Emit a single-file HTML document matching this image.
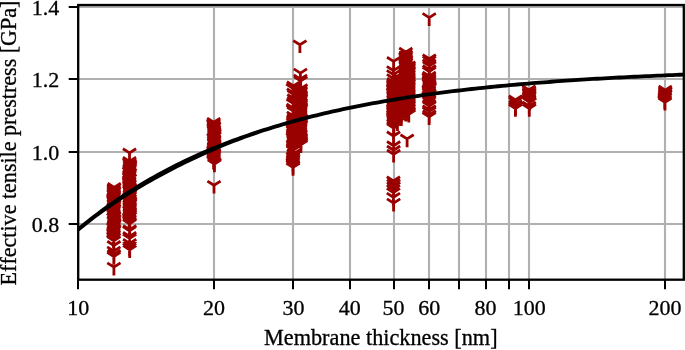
<!DOCTYPE html><html><head><meta charset="utf-8"><title>Effective tensile prestress vs membrane thickness</title><style>html,body{margin:0;padding:0;background:#fff}svg{display:block;will-change:transform}text{font-variant-ligatures:none;font-kerning:none}</style></head><body><svg width="685" height="350" viewBox="0 0 685 350"><rect width="685" height="350" fill="#fff"/><defs><clipPath id="c"><rect x="78.2" y="5.0" width="605.6" height="274.7"/></clipPath></defs><path d="M78 5.0V279.7M214 5.0V279.7M293 5.0V279.7M350 5.0V279.7M394 5.0V279.7M429 5.0V279.7M459 5.0V279.7M486 5.0V279.7M509 5.0V279.7M529 5.0V279.7M665 5.0V279.7M78.2 224.0H683.8M78.2 152.0H683.8M78.2 79.0H683.8M78.2 7.0H683.8" stroke="#b0b0b0" stroke-width="2.1" fill="none"/><path d="M113.9 267.1v8.3M113.9 267.1l6.6 -4.2M113.9 267.1l-6.6 -4.2M113.8 256.5v8.3M113.8 256.5l6.6 -4.2M113.8 256.5l-6.6 -4.2M114.0 254.5v8.3M114.0 254.5l6.6 -4.2M114.0 254.5l-6.6 -4.2M113.8 251.1v8.3M113.8 251.1l6.6 -4.2M113.8 251.1l-6.6 -4.2M113.9 245.5v8.3M113.9 245.5l6.6 -4.2M113.9 245.5l-6.6 -4.2M113.8 240.8v8.3M113.8 240.8l6.6 -4.2M113.8 240.8l-6.6 -4.2M113.4 239.4v8.3M113.4 239.4l6.6 -4.2M113.4 239.4l-6.6 -4.2M113.9 237.9v8.3M113.9 237.9l6.6 -4.2M113.9 237.9l-6.6 -4.2M113.4 236.5v8.3M113.4 236.5l6.6 -4.2M113.4 236.5l-6.6 -4.2M113.8 235.1v8.3M113.8 235.1l6.6 -4.2M113.8 235.1l-6.6 -4.2M113.4 233.6v8.3M113.4 233.6l6.6 -4.2M113.4 233.6l-6.6 -4.2M113.5 232.2v8.3M113.5 232.2l6.6 -4.2M113.5 232.2l-6.6 -4.2M113.8 230.7v8.3M113.8 230.7l6.6 -4.2M113.8 230.7l-6.6 -4.2M114.3 229.3v8.3M114.3 229.3l6.6 -4.2M114.3 229.3l-6.6 -4.2M113.5 227.9v8.3M113.5 227.9l6.6 -4.2M113.5 227.9l-6.6 -4.2M113.6 226.4v8.3M113.6 226.4l6.6 -4.2M113.6 226.4l-6.6 -4.2M114.1 225.0v8.3M114.1 225.0l6.6 -4.2M114.1 225.0l-6.6 -4.2M114.4 223.5v8.3M114.4 223.5l6.6 -4.2M114.4 223.5l-6.6 -4.2M114.0 222.1v8.3M114.0 222.1l6.6 -4.2M114.0 222.1l-6.6 -4.2M113.8 220.6v8.3M113.8 220.6l6.6 -4.2M113.8 220.6l-6.6 -4.2M114.4 219.2v8.3M114.4 219.2l6.6 -4.2M114.4 219.2l-6.6 -4.2M113.4 217.8v8.3M113.4 217.8l6.6 -4.2M113.4 217.8l-6.6 -4.2M114.3 216.3v8.3M114.3 216.3l6.6 -4.2M114.3 216.3l-6.6 -4.2M113.7 214.9v8.3M113.7 214.9l6.6 -4.2M113.7 214.9l-6.6 -4.2M113.5 213.4v8.3M113.5 213.4l6.6 -4.2M113.5 213.4l-6.6 -4.2M113.5 212.0v8.3M113.5 212.0l6.6 -4.2M113.5 212.0l-6.6 -4.2M113.7 210.6v8.3M113.7 210.6l6.6 -4.2M113.7 210.6l-6.6 -4.2M114.3 209.1v8.3M114.3 209.1l6.6 -4.2M114.3 209.1l-6.6 -4.2M113.6 207.7v8.3M113.6 207.7l6.6 -4.2M113.6 207.7l-6.6 -4.2M114.0 206.2v8.3M114.0 206.2l6.6 -4.2M114.0 206.2l-6.6 -4.2M114.1 204.8v8.3M114.1 204.8l6.6 -4.2M114.1 204.8l-6.6 -4.2M113.8 203.4v8.3M113.8 203.4l6.6 -4.2M113.8 203.4l-6.6 -4.2M114.0 201.9v8.3M114.0 201.9l6.6 -4.2M114.0 201.9l-6.6 -4.2M113.4 200.5v8.3M113.4 200.5l6.6 -4.2M113.4 200.5l-6.6 -4.2M113.4 199.0v8.3M113.4 199.0l6.6 -4.2M113.4 199.0l-6.6 -4.2M113.6 197.6v8.3M113.6 197.6l6.6 -4.2M113.6 197.6l-6.6 -4.2M114.1 196.2v8.3M114.1 196.2l6.6 -4.2M114.1 196.2l-6.6 -4.2M113.8 194.7v8.3M113.8 194.7l6.6 -4.2M113.8 194.7l-6.6 -4.2M113.7 193.3v8.3M113.7 193.3l6.6 -4.2M113.7 193.3l-6.6 -4.2M114.0 191.8v8.3M114.0 191.8l6.6 -4.2M114.0 191.8l-6.6 -4.2M113.9 190.4v8.3M113.9 190.4l6.6 -4.2M113.9 190.4l-6.6 -4.2M113.7 189.0v8.3M113.7 189.0l6.6 -4.2M113.7 189.0l-6.6 -4.2M114.2 187.5v8.3M114.2 187.5l6.6 -4.2M114.2 187.5l-6.6 -4.2M129.7 229.7v8.3M129.7 229.7l6.6 -4.2M129.7 229.7l-6.6 -4.2M129.5 230.7v8.3M129.5 230.7l6.6 -4.2M129.5 230.7l-6.6 -4.2M129.6 236.5v8.3M129.6 236.5l6.6 -4.2M129.6 236.5l-6.6 -4.2M129.6 238.4v8.3M129.6 238.4l6.6 -4.2M129.6 238.4l-6.6 -4.2M129.7 243.4v8.3M129.7 243.4l6.6 -4.2M129.7 243.4l-6.6 -4.2M129.7 245.5v8.3M129.7 245.5l6.6 -4.2M129.7 245.5l-6.6 -4.2M129.5 247.6v8.3M129.5 247.6l6.6 -4.2M129.5 247.6l-6.6 -4.2M129.7 249.7v8.3M129.7 249.7l6.6 -4.2M129.7 249.7l-6.6 -4.2M129.5 152.9v8.3M129.5 152.9l6.6 -4.2M129.5 152.9l-6.6 -4.2M129.5 223.8v8.3M129.5 223.8l6.6 -4.2M129.5 223.8l-6.6 -4.2M129.9 222.3v8.3M129.9 222.3l6.6 -4.2M129.9 222.3l-6.6 -4.2M129.2 220.9v8.3M129.2 220.9l6.6 -4.2M129.2 220.9l-6.6 -4.2M129.6 219.4v8.3M129.6 219.4l6.6 -4.2M129.6 219.4l-6.6 -4.2M129.1 218.0v8.3M129.1 218.0l6.6 -4.2M129.1 218.0l-6.6 -4.2M129.8 216.5v8.3M129.8 216.5l6.6 -4.2M129.8 216.5l-6.6 -4.2M129.9 215.1v8.3M129.9 215.1l6.6 -4.2M129.9 215.1l-6.6 -4.2M129.7 213.6v8.3M129.7 213.6l6.6 -4.2M129.7 213.6l-6.6 -4.2M130.0 212.2v8.3M130.0 212.2l6.6 -4.2M130.0 212.2l-6.6 -4.2M129.4 210.7v8.3M129.4 210.7l6.6 -4.2M129.4 210.7l-6.6 -4.2M129.8 209.3v8.3M129.8 209.3l6.6 -4.2M129.8 209.3l-6.6 -4.2M129.7 207.8v8.3M129.7 207.8l6.6 -4.2M129.7 207.8l-6.6 -4.2M129.7 206.4v8.3M129.7 206.4l6.6 -4.2M129.7 206.4l-6.6 -4.2M129.6 204.9v8.3M129.6 204.9l6.6 -4.2M129.6 204.9l-6.6 -4.2M130.0 203.5v8.3M130.0 203.5l6.6 -4.2M130.0 203.5l-6.6 -4.2M130.1 202.0v8.3M130.1 202.0l6.6 -4.2M130.1 202.0l-6.6 -4.2M129.6 200.6v8.3M129.6 200.6l6.6 -4.2M129.6 200.6l-6.6 -4.2M129.8 199.1v8.3M129.8 199.1l6.6 -4.2M129.8 199.1l-6.6 -4.2M129.1 197.7v8.3M129.1 197.7l6.6 -4.2M129.1 197.7l-6.6 -4.2M129.8 196.2v8.3M129.8 196.2l6.6 -4.2M129.8 196.2l-6.6 -4.2M129.8 194.8v8.3M129.8 194.8l6.6 -4.2M129.8 194.8l-6.6 -4.2M130.1 193.3v8.3M130.1 193.3l6.6 -4.2M130.1 193.3l-6.6 -4.2M130.0 191.9v8.3M130.0 191.9l6.6 -4.2M130.0 191.9l-6.6 -4.2M129.4 190.4v8.3M129.4 190.4l6.6 -4.2M129.4 190.4l-6.6 -4.2M129.5 189.0v8.3M129.5 189.0l6.6 -4.2M129.5 189.0l-6.6 -4.2M129.8 187.5v8.3M129.8 187.5l6.6 -4.2M129.8 187.5l-6.6 -4.2M129.1 186.1v8.3M129.1 186.1l6.6 -4.2M129.1 186.1l-6.6 -4.2M129.6 184.6v8.3M129.6 184.6l6.6 -4.2M129.6 184.6l-6.6 -4.2M129.2 183.2v8.3M129.2 183.2l6.6 -4.2M129.2 183.2l-6.6 -4.2M129.2 181.7v8.3M129.2 181.7l6.6 -4.2M129.2 181.7l-6.6 -4.2M129.1 180.3v8.3M129.1 180.3l6.6 -4.2M129.1 180.3l-6.6 -4.2M129.9 178.8v8.3M129.9 178.8l6.6 -4.2M129.9 178.8l-6.6 -4.2M129.2 177.4v8.3M129.2 177.4l6.6 -4.2M129.2 177.4l-6.6 -4.2M129.3 175.9v8.3M129.3 175.9l6.6 -4.2M129.3 175.9l-6.6 -4.2M129.5 174.5v8.3M129.5 174.5l6.6 -4.2M129.5 174.5l-6.6 -4.2M130.0 173.0v8.3M130.0 173.0l6.6 -4.2M130.0 173.0l-6.6 -4.2M129.1 171.6v8.3M129.1 171.6l6.6 -4.2M129.1 171.6l-6.6 -4.2M129.5 170.1v8.3M129.5 170.1l6.6 -4.2M129.5 170.1l-6.6 -4.2M129.7 168.7v8.3M129.7 168.7l6.6 -4.2M129.7 168.7l-6.6 -4.2M130.0 167.2v8.3M130.0 167.2l6.6 -4.2M130.0 167.2l-6.6 -4.2M130.0 165.8v8.3M130.0 165.8l6.6 -4.2M130.0 165.8l-6.6 -4.2M130.0 164.3v8.3M130.0 164.3l6.6 -4.2M130.0 164.3l-6.6 -4.2M129.4 162.9v8.3M129.4 162.9l6.6 -4.2M129.4 162.9l-6.6 -4.2M129.5 161.4v8.3M129.5 161.4l6.6 -4.2M129.5 161.4l-6.6 -4.2M214.0 185.3v8.3M214.0 185.3l6.6 -4.2M214.0 185.3l-6.6 -4.2M214.4 164.0v8.3M214.4 164.0l6.6 -4.2M214.4 164.0l-6.6 -4.2M214.5 162.5v8.3M214.5 162.5l6.6 -4.2M214.5 162.5l-6.6 -4.2M213.6 161.1v8.3M213.6 161.1l6.6 -4.2M213.6 161.1l-6.6 -4.2M213.6 159.6v8.3M213.6 159.6l6.6 -4.2M213.6 159.6l-6.6 -4.2M213.7 158.2v8.3M213.7 158.2l6.6 -4.2M213.7 158.2l-6.6 -4.2M213.7 156.8v8.3M213.7 156.8l6.6 -4.2M213.7 156.8l-6.6 -4.2M214.0 155.3v8.3M214.0 155.3l6.6 -4.2M214.0 155.3l-6.6 -4.2M214.1 153.9v8.3M214.1 153.9l6.6 -4.2M214.1 153.9l-6.6 -4.2M213.7 152.5v8.3M213.7 152.5l6.6 -4.2M213.7 152.5l-6.6 -4.2M213.4 151.0v8.3M213.4 151.0l6.6 -4.2M213.4 151.0l-6.6 -4.2M213.9 149.6v8.3M213.9 149.6l6.6 -4.2M213.9 149.6l-6.6 -4.2M213.9 148.1v8.3M213.9 148.1l6.6 -4.2M213.9 148.1l-6.6 -4.2M214.1 146.7v8.3M214.1 146.7l6.6 -4.2M214.1 146.7l-6.6 -4.2M214.5 145.3v8.3M214.5 145.3l6.6 -4.2M214.5 145.3l-6.6 -4.2M214.2 143.8v8.3M214.2 143.8l6.6 -4.2M214.2 143.8l-6.6 -4.2M214.0 142.4v8.3M214.0 142.4l6.6 -4.2M214.0 142.4l-6.6 -4.2M214.1 141.0v8.3M214.1 141.0l6.6 -4.2M214.1 141.0l-6.6 -4.2M214.2 139.5v8.3M214.2 139.5l6.6 -4.2M214.2 139.5l-6.6 -4.2M213.5 138.1v8.3M213.5 138.1l6.6 -4.2M213.5 138.1l-6.6 -4.2M214.4 136.6v8.3M214.4 136.6l6.6 -4.2M214.4 136.6l-6.6 -4.2M214.3 135.2v8.3M214.3 135.2l6.6 -4.2M214.3 135.2l-6.6 -4.2M214.4 133.8v8.3M214.4 133.8l6.6 -4.2M214.4 133.8l-6.6 -4.2M214.3 132.3v8.3M214.3 132.3l6.6 -4.2M214.3 132.3l-6.6 -4.2M213.9 130.9v8.3M213.9 130.9l6.6 -4.2M213.9 130.9l-6.6 -4.2M213.9 129.5v8.3M213.9 129.5l6.6 -4.2M213.9 129.5l-6.6 -4.2M213.6 128.0v8.3M213.6 128.0l6.6 -4.2M213.6 128.0l-6.6 -4.2M214.1 126.6v8.3M214.1 126.6l6.6 -4.2M214.1 126.6l-6.6 -4.2M213.5 125.1v8.3M213.5 125.1l6.6 -4.2M213.5 125.1l-6.6 -4.2M213.5 123.7v8.3M213.5 123.7l6.6 -4.2M213.5 123.7l-6.6 -4.2M213.7 122.3v8.3M213.7 122.3l6.6 -4.2M213.7 122.3l-6.6 -4.2M293.0 167.4v8.3M293.0 167.4l6.6 -4.2M293.0 167.4l-6.6 -4.2M293.2 165.9v8.3M293.2 165.9l6.6 -4.2M293.2 165.9l-6.6 -4.2M292.9 164.4v8.3M292.9 164.4l6.6 -4.2M292.9 164.4l-6.6 -4.2M292.8 162.9v8.3M292.8 162.9l6.6 -4.2M292.8 162.9l-6.6 -4.2M293.0 161.4v8.3M293.0 161.4l6.6 -4.2M293.0 161.4l-6.6 -4.2M293.0 159.9v8.3M293.0 159.9l6.6 -4.2M293.0 159.9l-6.6 -4.2M293.3 158.3v8.3M293.3 158.3l6.6 -4.2M293.3 158.3l-6.6 -4.2M292.9 156.8v8.3M292.9 156.8l6.6 -4.2M292.9 156.8l-6.6 -4.2M293.9 155.3v8.3M293.9 155.3l6.6 -4.2M293.9 155.3l-6.6 -4.2M293.6 153.8v8.3M293.6 153.8l6.6 -4.2M293.6 153.8l-6.6 -4.2M293.0 150.2v8.3M293.0 150.2l6.6 -4.2M293.0 150.2l-6.6 -4.2M293.1 148.8v8.3M293.1 148.8l6.6 -4.2M293.1 148.8l-6.6 -4.2M293.2 147.4v8.3M293.2 147.4l6.6 -4.2M293.2 147.4l-6.6 -4.2M293.3 146.0v8.3M293.3 146.0l6.6 -4.2M293.3 146.0l-6.6 -4.2M293.0 144.5v8.3M293.0 144.5l6.6 -4.2M293.0 144.5l-6.6 -4.2M293.8 143.1v8.3M293.8 143.1l6.6 -4.2M293.8 143.1l-6.6 -4.2M294.0 141.7v8.3M294.0 141.7l6.6 -4.2M294.0 141.7l-6.6 -4.2M293.4 140.3v8.3M293.4 140.3l6.6 -4.2M293.4 140.3l-6.6 -4.2M293.4 138.9v8.3M293.4 138.9l6.6 -4.2M293.4 138.9l-6.6 -4.2M292.9 137.5v8.3M292.9 137.5l6.6 -4.2M292.9 137.5l-6.6 -4.2M293.0 136.1v8.3M293.0 136.1l6.6 -4.2M293.0 136.1l-6.6 -4.2M293.2 134.7v8.3M293.2 134.7l6.6 -4.2M293.2 134.7l-6.6 -4.2M293.1 133.3v8.3M293.1 133.3l6.6 -4.2M293.1 133.3l-6.6 -4.2M293.8 131.9v8.3M293.8 131.9l6.6 -4.2M293.8 131.9l-6.6 -4.2M293.0 130.5v8.3M293.0 130.5l6.6 -4.2M293.0 130.5l-6.6 -4.2M292.9 129.0v8.3M292.9 129.0l6.6 -4.2M292.9 129.0l-6.6 -4.2M294.0 127.6v8.3M294.0 127.6l6.6 -4.2M294.0 127.6l-6.6 -4.2M293.5 126.2v8.3M293.5 126.2l6.6 -4.2M293.5 126.2l-6.6 -4.2M293.0 124.8v8.3M293.0 124.8l6.6 -4.2M293.0 124.8l-6.6 -4.2M293.5 86.0v8.3M293.5 86.0l6.6 -4.2M293.5 86.0l-6.6 -4.2M292.8 88.2v8.3M292.8 88.2l6.6 -4.2M292.8 88.2l-6.6 -4.2M293.5 92.9v8.3M293.5 92.9l6.6 -4.2M293.5 92.9l-6.6 -4.2M294.1 94.7v8.3M294.1 94.7l6.6 -4.2M294.1 94.7l-6.6 -4.2M293.9 98.7v8.3M293.9 98.7l6.6 -4.2M293.9 98.7l-6.6 -4.2M293.7 101.6v8.3M293.7 101.6l6.6 -4.2M293.7 101.6l-6.6 -4.2M293.1 103.4v8.3M293.1 103.4l6.6 -4.2M293.1 103.4l-6.6 -4.2M293.2 108.1v8.3M293.2 108.1l6.6 -4.2M293.2 108.1l-6.6 -4.2M293.0 109.6v8.3M293.0 109.6l6.6 -4.2M293.0 109.6l-6.6 -4.2M293.8 111.4v8.3M293.8 111.4l6.6 -4.2M293.8 111.4l-6.6 -4.2M293.5 116.1v8.3M293.5 116.1l6.6 -4.2M293.5 116.1l-6.6 -4.2M293.8 118.3v8.3M293.8 118.3l6.6 -4.2M293.8 118.3l-6.6 -4.2M293.2 120.1v8.3M293.2 120.1l6.6 -4.2M293.2 120.1l-6.6 -4.2M293.0 122.3v8.3M293.0 122.3l6.6 -4.2M293.0 122.3l-6.6 -4.2M300.8 144.7v8.3M300.8 144.7l6.6 -4.2M300.8 144.7l-6.6 -4.2M301.0 143.3v8.3M301.0 143.3l6.6 -4.2M301.0 143.3l-6.6 -4.2M300.9 141.9v8.3M300.9 141.9l6.6 -4.2M300.9 141.9l-6.6 -4.2M300.8 140.4v8.3M300.8 140.4l6.6 -4.2M300.8 140.4l-6.6 -4.2M300.8 139.0v8.3M300.8 139.0l6.6 -4.2M300.8 139.0l-6.6 -4.2M300.7 137.5v8.3M300.7 137.5l6.6 -4.2M300.7 137.5l-6.6 -4.2M300.2 136.1v8.3M300.2 136.1l6.6 -4.2M300.2 136.1l-6.6 -4.2M300.5 134.7v8.3M300.5 134.7l6.6 -4.2M300.5 134.7l-6.6 -4.2M300.3 133.2v8.3M300.3 133.2l6.6 -4.2M300.3 133.2l-6.6 -4.2M300.0 131.8v8.3M300.0 131.8l6.6 -4.2M300.0 131.8l-6.6 -4.2M300.0 130.3v8.3M300.0 130.3l6.6 -4.2M300.0 130.3l-6.6 -4.2M300.2 128.9v8.3M300.2 128.9l6.6 -4.2M300.2 128.9l-6.6 -4.2M300.2 127.5v8.3M300.2 127.5l6.6 -4.2M300.2 127.5l-6.6 -4.2M300.7 126.0v8.3M300.7 126.0l6.6 -4.2M300.7 126.0l-6.6 -4.2M301.0 124.6v8.3M301.0 124.6l6.6 -4.2M301.0 124.6l-6.6 -4.2M300.4 123.1v8.3M300.4 123.1l6.6 -4.2M300.4 123.1l-6.6 -4.2M301.0 121.7v8.3M301.0 121.7l6.6 -4.2M301.0 121.7l-6.6 -4.2M301.0 120.3v8.3M301.0 120.3l6.6 -4.2M301.0 120.3l-6.6 -4.2M301.0 118.8v8.3M301.0 118.8l6.6 -4.2M301.0 118.8l-6.6 -4.2M300.3 117.4v8.3M300.3 117.4l6.6 -4.2M300.3 117.4l-6.6 -4.2M300.2 115.9v8.3M300.2 115.9l6.6 -4.2M300.2 115.9l-6.6 -4.2M300.2 114.5v8.3M300.2 114.5l6.6 -4.2M300.2 114.5l-6.6 -4.2M300.2 113.1v8.3M300.2 113.1l6.6 -4.2M300.2 113.1l-6.6 -4.2M300.2 111.6v8.3M300.2 111.6l6.6 -4.2M300.2 111.6l-6.6 -4.2M300.6 110.2v8.3M300.6 110.2l6.6 -4.2M300.6 110.2l-6.6 -4.2M300.9 108.7v8.3M300.9 108.7l6.6 -4.2M300.9 108.7l-6.6 -4.2M300.9 107.3v8.3M300.9 107.3l6.6 -4.2M300.9 107.3l-6.6 -4.2M300.5 105.9v8.3M300.5 105.9l6.6 -4.2M300.5 105.9l-6.6 -4.2M300.7 104.4v8.3M300.7 104.4l6.6 -4.2M300.7 104.4l-6.6 -4.2M300.8 103.0v8.3M300.8 103.0l6.6 -4.2M300.8 103.0l-6.6 -4.2M300.0 101.5v8.3M300.0 101.5l6.6 -4.2M300.0 101.5l-6.6 -4.2M300.7 100.1v8.3M300.7 100.1l6.6 -4.2M300.7 100.1l-6.6 -4.2M300.9 98.6v8.3M300.9 98.6l6.6 -4.2M300.9 98.6l-6.6 -4.2M300.8 97.2v8.3M300.8 97.2l6.6 -4.2M300.8 97.2l-6.6 -4.2M300.8 95.8v8.3M300.8 95.8l6.6 -4.2M300.8 95.8l-6.6 -4.2M300.5 94.3v8.3M300.5 94.3l6.6 -4.2M300.5 94.3l-6.6 -4.2M300.1 92.9v8.3M300.1 92.9l6.6 -4.2M300.1 92.9l-6.6 -4.2M300.8 91.4v8.3M300.8 91.4l6.6 -4.2M300.8 91.4l-6.6 -4.2M300.3 90.0v8.3M300.3 90.0l6.6 -4.2M300.3 90.0l-6.6 -4.2M300.8 88.6v8.3M300.8 88.6l6.6 -4.2M300.8 88.6l-6.6 -4.2M300.7 80.9v8.3M300.7 80.9l6.6 -4.2M300.7 80.9l-6.6 -4.2M300.4 79.1v8.3M300.4 79.1l6.6 -4.2M300.4 79.1l-6.6 -4.2M300.4 73.1v8.3M300.4 73.1l6.6 -4.2M300.4 73.1l-6.6 -4.2M299.9 44.8v8.3M299.9 44.8l6.6 -4.2M299.9 44.8l-6.6 -4.2M393.6 203.1v8.3M393.6 203.1l6.6 -4.2M393.6 203.1l-6.6 -4.2M393.4 197.3v8.3M393.4 197.3l6.6 -4.2M393.4 197.3l-6.6 -4.2M393.4 192.6v8.3M393.4 192.6l6.6 -4.2M393.4 192.6l-6.6 -4.2M393.4 189.3v8.3M393.4 189.3l6.6 -4.2M393.4 189.3l-6.6 -4.2M393.6 186.4v8.3M393.6 186.4l6.6 -4.2M393.6 186.4l-6.6 -4.2M393.6 183.9v8.3M393.6 183.9l6.6 -4.2M393.6 183.9l-6.6 -4.2M393.4 181.0v8.3M393.4 181.0l6.6 -4.2M393.4 181.0l-6.6 -4.2M393.6 154.2v8.3M393.6 154.2l6.6 -4.2M393.6 154.2l-6.6 -4.2M393.6 150.2v8.3M393.6 150.2l6.6 -4.2M393.6 150.2l-6.6 -4.2M393.6 145.7v8.3M393.6 145.7l6.6 -4.2M393.6 145.7l-6.6 -4.2M393.5 136.0v8.3M393.5 136.0l6.6 -4.2M393.5 136.0l-6.6 -4.2M393.5 78.6v8.3M393.5 78.6l6.6 -4.2M393.5 78.6l-6.6 -4.2M393.4 74.6v8.3M393.4 74.6l6.6 -4.2M393.4 74.6l-6.6 -4.2M393.4 70.6v8.3M393.4 70.6l6.6 -4.2M393.4 70.6l-6.6 -4.2M393.6 61.4v8.3M393.6 61.4l6.6 -4.2M393.6 61.4l-6.6 -4.2M393.6 128.1v8.3M393.6 128.1l6.6 -4.2M393.6 128.1l-6.6 -4.2M393.5 126.6v8.3M393.5 126.6l6.6 -4.2M393.5 126.6l-6.6 -4.2M393.9 125.1v8.3M393.9 125.1l6.6 -4.2M393.9 125.1l-6.6 -4.2M393.5 123.7v8.3M393.5 123.7l6.6 -4.2M393.5 123.7l-6.6 -4.2M393.8 122.2v8.3M393.8 122.2l6.6 -4.2M393.8 122.2l-6.6 -4.2M393.8 120.7v8.3M393.8 120.7l6.6 -4.2M393.8 120.7l-6.6 -4.2M393.3 119.2v8.3M393.3 119.2l6.6 -4.2M393.3 119.2l-6.6 -4.2M393.3 117.8v8.3M393.3 117.8l6.6 -4.2M393.3 117.8l-6.6 -4.2M393.3 116.3v8.3M393.3 116.3l6.6 -4.2M393.3 116.3l-6.6 -4.2M393.3 114.8v8.3M393.3 114.8l6.6 -4.2M393.3 114.8l-6.6 -4.2M393.6 113.3v8.3M393.6 113.3l6.6 -4.2M393.6 113.3l-6.6 -4.2M393.3 111.9v8.3M393.3 111.9l6.6 -4.2M393.3 111.9l-6.6 -4.2M393.4 110.4v8.3M393.4 110.4l6.6 -4.2M393.4 110.4l-6.6 -4.2M393.2 108.9v8.3M393.2 108.9l6.6 -4.2M393.2 108.9l-6.6 -4.2M393.8 107.4v8.3M393.8 107.4l6.6 -4.2M393.8 107.4l-6.6 -4.2M393.4 106.0v8.3M393.4 106.0l6.6 -4.2M393.4 106.0l-6.6 -4.2M393.5 104.5v8.3M393.5 104.5l6.6 -4.2M393.5 104.5l-6.6 -4.2M393.6 103.0v8.3M393.6 103.0l6.6 -4.2M393.6 103.0l-6.6 -4.2M393.8 101.6v8.3M393.8 101.6l6.6 -4.2M393.8 101.6l-6.6 -4.2M393.4 100.1v8.3M393.4 100.1l6.6 -4.2M393.4 100.1l-6.6 -4.2M393.8 98.6v8.3M393.8 98.6l6.6 -4.2M393.8 98.6l-6.6 -4.2M393.5 97.1v8.3M393.5 97.1l6.6 -4.2M393.5 97.1l-6.6 -4.2M393.5 95.7v8.3M393.5 95.7l6.6 -4.2M393.5 95.7l-6.6 -4.2M393.5 94.2v8.3M393.5 94.2l6.6 -4.2M393.5 94.2l-6.6 -4.2M393.1 92.7v8.3M393.1 92.7l6.6 -4.2M393.1 92.7l-6.6 -4.2M393.5 91.2v8.3M393.5 91.2l6.6 -4.2M393.5 91.2l-6.6 -4.2M393.3 89.8v8.3M393.3 89.8l6.6 -4.2M393.3 89.8l-6.6 -4.2M393.1 88.3v8.3M393.1 88.3l6.6 -4.2M393.1 88.3l-6.6 -4.2M393.7 86.8v8.3M393.7 86.8l6.6 -4.2M393.7 86.8l-6.6 -4.2M393.2 85.3v8.3M393.2 85.3l6.6 -4.2M393.2 85.3l-6.6 -4.2M393.5 83.9v8.3M393.5 83.9l6.6 -4.2M393.5 83.9l-6.6 -4.2M393.7 82.4v8.3M393.7 82.4l6.6 -4.2M393.7 82.4l-6.6 -4.2M397.4 122.6v8.3M397.4 122.6l6.6 -4.2M397.4 122.6l-6.6 -4.2M397.3 120.8v8.3M397.3 120.8l6.6 -4.2M397.3 120.8l-6.6 -4.2M397.4 119.0v8.3M397.4 119.0l6.6 -4.2M397.4 119.0l-6.6 -4.2M397.4 117.2v8.3M397.4 117.2l6.6 -4.2M397.4 117.2l-6.6 -4.2M397.6 115.4v8.3M397.6 115.4l6.6 -4.2M397.6 115.4l-6.6 -4.2M397.1 113.6v8.3M397.1 113.6l6.6 -4.2M397.1 113.6l-6.6 -4.2M397.4 111.8v8.3M397.4 111.8l6.6 -4.2M397.4 111.8l-6.6 -4.2M397.2 110.0v8.3M397.2 110.0l6.6 -4.2M397.2 110.0l-6.6 -4.2M397.3 108.2v8.3M397.3 108.2l6.6 -4.2M397.3 108.2l-6.6 -4.2M397.5 106.5v8.3M397.5 106.5l6.6 -4.2M397.5 106.5l-6.6 -4.2M397.4 104.7v8.3M397.4 104.7l6.6 -4.2M397.4 104.7l-6.6 -4.2M397.4 102.9v8.3M397.4 102.9l6.6 -4.2M397.4 102.9l-6.6 -4.2M397.5 101.1v8.3M397.5 101.1l6.6 -4.2M397.5 101.1l-6.6 -4.2M397.6 99.3v8.3M397.6 99.3l6.6 -4.2M397.6 99.3l-6.6 -4.2M397.4 97.5v8.3M397.4 97.5l6.6 -4.2M397.4 97.5l-6.6 -4.2M397.5 95.7v8.3M397.5 95.7l6.6 -4.2M397.5 95.7l-6.6 -4.2M397.4 93.9v8.3M397.4 93.9l6.6 -4.2M397.4 93.9l-6.6 -4.2M397.4 92.1v8.3M397.4 92.1l6.6 -4.2M397.4 92.1l-6.6 -4.2M397.5 90.3v8.3M397.5 90.3l6.6 -4.2M397.5 90.3l-6.6 -4.2M397.4 88.5v8.3M397.4 88.5l6.6 -4.2M397.4 88.5l-6.6 -4.2M397.4 86.7v8.3M397.4 86.7l6.6 -4.2M397.4 86.7l-6.6 -4.2M397.4 84.9v8.3M397.4 84.9l6.6 -4.2M397.4 84.9l-6.6 -4.2M397.6 83.1v8.3M397.6 83.1l6.6 -4.2M397.6 83.1l-6.6 -4.2M401.3 117.6v8.3M401.3 117.6l6.6 -4.2M401.3 117.6l-6.6 -4.2M401.4 115.8v8.3M401.4 115.8l6.6 -4.2M401.4 115.8l-6.6 -4.2M401.5 113.9v8.3M401.5 113.9l6.6 -4.2M401.5 113.9l-6.6 -4.2M401.0 112.1v8.3M401.0 112.1l6.6 -4.2M401.0 112.1l-6.6 -4.2M401.2 110.3v8.3M401.2 110.3l6.6 -4.2M401.2 110.3l-6.6 -4.2M401.5 108.5v8.3M401.5 108.5l6.6 -4.2M401.5 108.5l-6.6 -4.2M401.4 106.7v8.3M401.4 106.7l6.6 -4.2M401.4 106.7l-6.6 -4.2M401.0 104.9v8.3M401.0 104.9l6.6 -4.2M401.0 104.9l-6.6 -4.2M401.0 103.1v8.3M401.0 103.1l6.6 -4.2M401.0 103.1l-6.6 -4.2M401.2 101.2v8.3M401.2 101.2l6.6 -4.2M401.2 101.2l-6.6 -4.2M400.9 99.4v8.3M400.9 99.4l6.6 -4.2M400.9 99.4l-6.6 -4.2M401.0 97.6v8.3M401.0 97.6l6.6 -4.2M401.0 97.6l-6.6 -4.2M400.9 95.8v8.3M400.9 95.8l6.6 -4.2M400.9 95.8l-6.6 -4.2M401.3 94.0v8.3M401.3 94.0l6.6 -4.2M401.3 94.0l-6.6 -4.2M401.4 92.2v8.3M401.4 92.2l6.6 -4.2M401.4 92.2l-6.6 -4.2M401.4 90.4v8.3M401.4 90.4l6.6 -4.2M401.4 90.4l-6.6 -4.2M401.0 88.6v8.3M401.0 88.6l6.6 -4.2M401.0 88.6l-6.6 -4.2M401.3 86.7v8.3M401.3 86.7l6.6 -4.2M401.3 86.7l-6.6 -4.2M401.3 84.9v8.3M401.3 84.9l6.6 -4.2M401.3 84.9l-6.6 -4.2M401.0 83.1v8.3M401.0 83.1l6.6 -4.2M401.0 83.1l-6.6 -4.2M401.4 81.3v8.3M401.4 81.3l6.6 -4.2M401.4 81.3l-6.6 -4.2M401.5 79.5v8.3M401.5 79.5l6.6 -4.2M401.5 79.5l-6.6 -4.2M405.7 113.3v8.3M405.7 113.3l6.6 -4.2M405.7 113.3l-6.6 -4.2M406.1 111.9v8.3M406.1 111.9l6.6 -4.2M406.1 111.9l-6.6 -4.2M405.8 110.4v8.3M405.8 110.4l6.6 -4.2M405.8 110.4l-6.6 -4.2M405.8 109.0v8.3M405.8 109.0l6.6 -4.2M405.8 109.0l-6.6 -4.2M406.1 107.5v8.3M406.1 107.5l6.6 -4.2M406.1 107.5l-6.6 -4.2M406.0 106.1v8.3M406.0 106.1l6.6 -4.2M406.0 106.1l-6.6 -4.2M405.6 104.6v8.3M405.6 104.6l6.6 -4.2M405.6 104.6l-6.6 -4.2M405.8 103.2v8.3M405.8 103.2l6.6 -4.2M405.8 103.2l-6.6 -4.2M405.9 101.7v8.3M405.9 101.7l6.6 -4.2M405.9 101.7l-6.6 -4.2M405.7 100.2v8.3M405.7 100.2l6.6 -4.2M405.7 100.2l-6.6 -4.2M405.7 98.8v8.3M405.7 98.8l6.6 -4.2M405.7 98.8l-6.6 -4.2M405.7 97.3v8.3M405.7 97.3l6.6 -4.2M405.7 97.3l-6.6 -4.2M406.0 95.9v8.3M406.0 95.9l6.6 -4.2M406.0 95.9l-6.6 -4.2M405.6 94.4v8.3M405.6 94.4l6.6 -4.2M405.6 94.4l-6.6 -4.2M405.9 93.0v8.3M405.9 93.0l6.6 -4.2M405.9 93.0l-6.6 -4.2M405.8 91.5v8.3M405.8 91.5l6.6 -4.2M405.8 91.5l-6.6 -4.2M405.6 90.1v8.3M405.6 90.1l6.6 -4.2M405.6 90.1l-6.6 -4.2M405.7 88.6v8.3M405.7 88.6l6.6 -4.2M405.7 88.6l-6.6 -4.2M405.9 87.2v8.3M405.9 87.2l6.6 -4.2M405.9 87.2l-6.6 -4.2M405.9 85.7v8.3M405.9 85.7l6.6 -4.2M405.9 85.7l-6.6 -4.2M405.6 84.3v8.3M405.6 84.3l6.6 -4.2M405.6 84.3l-6.6 -4.2M406.1 82.8v8.3M406.1 82.8l6.6 -4.2M406.1 82.8l-6.6 -4.2M406.0 81.4v8.3M406.0 81.4l6.6 -4.2M406.0 81.4l-6.6 -4.2M406.1 79.9v8.3M406.1 79.9l6.6 -4.2M406.1 79.9l-6.6 -4.2M405.6 78.5v8.3M405.6 78.5l6.6 -4.2M405.6 78.5l-6.6 -4.2M405.7 77.0v8.3M405.7 77.0l6.6 -4.2M405.7 77.0l-6.6 -4.2M405.6 75.6v8.3M405.6 75.6l6.6 -4.2M405.6 75.6l-6.6 -4.2M406.0 74.1v8.3M406.0 74.1l6.6 -4.2M406.0 74.1l-6.6 -4.2M405.7 72.6v8.3M405.7 72.6l6.6 -4.2M405.7 72.6l-6.6 -4.2M405.6 71.2v8.3M405.6 71.2l6.6 -4.2M405.6 71.2l-6.6 -4.2M405.8 69.7v8.3M405.8 69.7l6.6 -4.2M405.8 69.7l-6.6 -4.2M406.1 68.3v8.3M406.1 68.3l6.6 -4.2M406.1 68.3l-6.6 -4.2M406.0 66.8v8.3M406.0 66.8l6.6 -4.2M406.0 66.8l-6.6 -4.2M405.7 65.4v8.3M405.7 65.4l6.6 -4.2M405.7 65.4l-6.6 -4.2M405.6 63.9v8.3M405.6 63.9l6.6 -4.2M405.6 63.9l-6.6 -4.2M406.1 62.5v8.3M406.1 62.5l6.6 -4.2M406.1 62.5l-6.6 -4.2M405.9 61.0v8.3M405.9 61.0l6.6 -4.2M405.9 61.0l-6.6 -4.2M406.0 59.6v8.3M406.0 59.6l6.6 -4.2M406.0 59.6l-6.6 -4.2M405.6 58.1v8.3M405.6 58.1l6.6 -4.2M405.6 58.1l-6.6 -4.2M405.6 56.7v8.3M405.6 56.7l6.6 -4.2M405.6 56.7l-6.6 -4.2M406.0 55.2v8.3M406.0 55.2l6.6 -4.2M406.0 55.2l-6.6 -4.2M405.8 52.2v8.3M405.8 52.2l6.6 -4.2M405.8 52.2l-6.6 -4.2M407.1 138.9v8.3M407.1 138.9l6.6 -4.2M407.1 138.9l-6.6 -4.2M408.8 114.3v8.3M408.8 114.3l6.6 -4.2M408.8 114.3l-6.6 -4.2M408.6 112.8v8.3M408.6 112.8l6.6 -4.2M408.6 112.8l-6.6 -4.2M408.7 111.4v8.3M408.7 111.4l6.6 -4.2M408.7 111.4l-6.6 -4.2M408.4 109.9v8.3M408.4 109.9l6.6 -4.2M408.4 109.9l-6.6 -4.2M408.7 108.4v8.3M408.7 108.4l6.6 -4.2M408.7 108.4l-6.6 -4.2M408.4 107.0v8.3M408.4 107.0l6.6 -4.2M408.4 107.0l-6.6 -4.2M408.7 105.5v8.3M408.7 105.5l6.6 -4.2M408.7 105.5l-6.6 -4.2M408.6 104.1v8.3M408.6 104.1l6.6 -4.2M408.6 104.1l-6.6 -4.2M408.5 102.6v8.3M408.5 102.6l6.6 -4.2M408.5 102.6l-6.6 -4.2M408.6 101.1v8.3M408.6 101.1l6.6 -4.2M408.6 101.1l-6.6 -4.2M408.8 99.7v8.3M408.8 99.7l6.6 -4.2M408.8 99.7l-6.6 -4.2M408.5 98.2v8.3M408.5 98.2l6.6 -4.2M408.5 98.2l-6.6 -4.2M408.4 96.7v8.3M408.4 96.7l6.6 -4.2M408.4 96.7l-6.6 -4.2M408.6 95.3v8.3M408.6 95.3l6.6 -4.2M408.6 95.3l-6.6 -4.2M408.5 93.8v8.3M408.5 93.8l6.6 -4.2M408.5 93.8l-6.6 -4.2M408.4 92.3v8.3M408.4 92.3l6.6 -4.2M408.4 92.3l-6.6 -4.2M408.4 90.9v8.3M408.4 90.9l6.6 -4.2M408.4 90.9l-6.6 -4.2M408.4 89.4v8.3M408.4 89.4l6.6 -4.2M408.4 89.4l-6.6 -4.2M408.5 87.9v8.3M408.5 87.9l6.6 -4.2M408.5 87.9l-6.6 -4.2M408.5 86.5v8.3M408.5 86.5l6.6 -4.2M408.5 86.5l-6.6 -4.2M408.5 85.0v8.3M408.5 85.0l6.6 -4.2M408.5 85.0l-6.6 -4.2M408.7 83.6v8.3M408.7 83.6l6.6 -4.2M408.7 83.6l-6.6 -4.2M408.5 82.1v8.3M408.5 82.1l6.6 -4.2M408.5 82.1l-6.6 -4.2M408.6 80.6v8.3M408.6 80.6l6.6 -4.2M408.6 80.6l-6.6 -4.2M408.5 79.2v8.3M408.5 79.2l6.6 -4.2M408.5 79.2l-6.6 -4.2M408.5 77.7v8.3M408.5 77.7l6.6 -4.2M408.5 77.7l-6.6 -4.2M408.4 76.2v8.3M408.4 76.2l6.6 -4.2M408.4 76.2l-6.6 -4.2M408.5 74.8v8.3M408.5 74.8l6.6 -4.2M408.5 74.8l-6.6 -4.2M408.4 73.3v8.3M408.4 73.3l6.6 -4.2M408.4 73.3l-6.6 -4.2M408.7 71.8v8.3M408.7 71.8l6.6 -4.2M408.7 71.8l-6.6 -4.2M408.6 70.4v8.3M408.6 70.4l6.6 -4.2M408.6 70.4l-6.6 -4.2M408.5 68.9v8.3M408.5 68.9l6.6 -4.2M408.5 68.9l-6.6 -4.2M408.6 67.4v8.3M408.6 67.4l6.6 -4.2M408.6 67.4l-6.6 -4.2M408.8 66.0v8.3M408.8 66.0l6.6 -4.2M408.8 66.0l-6.6 -4.2M429.1 116.7v8.3M429.1 116.7l6.6 -4.2M429.1 116.7l-6.6 -4.2M429.3 115.0v8.3M429.3 115.0l6.6 -4.2M429.3 115.0l-6.6 -4.2M429.2 111.4v8.3M429.2 111.4l6.6 -4.2M429.2 111.4l-6.6 -4.2M429.2 109.8v8.3M429.2 109.8l6.6 -4.2M429.2 109.8l-6.6 -4.2M429.3 106.1v8.3M429.3 106.1l6.6 -4.2M429.3 106.1l-6.6 -4.2M429.2 104.5v8.3M429.2 104.5l6.6 -4.2M429.2 104.5l-6.6 -4.2M429.2 71.5v8.3M429.2 71.5l6.6 -4.2M429.2 71.5l-6.6 -4.2M429.3 69.7v8.3M429.3 69.7l6.6 -4.2M429.3 69.7l-6.6 -4.2M429.4 65.9v8.3M429.4 65.9l6.6 -4.2M429.4 65.9l-6.6 -4.2M429.2 63.9v8.3M429.2 63.9l6.6 -4.2M429.2 63.9l-6.6 -4.2M429.3 60.6v8.3M429.3 60.6l6.6 -4.2M429.3 60.6l-6.6 -4.2M429.3 58.8v8.3M429.3 58.8l6.6 -4.2M429.3 58.8l-6.6 -4.2M429.2 17.6v8.3M429.2 17.6l6.6 -4.2M429.2 17.6l-6.6 -4.2M429.1 101.2v8.3M429.1 101.2l6.6 -4.2M429.1 101.2l-6.6 -4.2M429.1 99.8v8.3M429.1 99.8l6.6 -4.2M429.1 99.8l-6.6 -4.2M428.7 98.3v8.3M428.7 98.3l6.6 -4.2M428.7 98.3l-6.6 -4.2M428.8 96.8v8.3M428.8 96.8l6.6 -4.2M428.8 96.8l-6.6 -4.2M428.8 95.4v8.3M428.8 95.4l6.6 -4.2M428.8 95.4l-6.6 -4.2M429.5 93.9v8.3M429.5 93.9l6.6 -4.2M429.5 93.9l-6.6 -4.2M429.0 92.4v8.3M429.0 92.4l6.6 -4.2M429.0 92.4l-6.6 -4.2M428.9 91.0v8.3M428.9 91.0l6.6 -4.2M428.9 91.0l-6.6 -4.2M428.8 89.5v8.3M428.8 89.5l6.6 -4.2M428.8 89.5l-6.6 -4.2M429.6 88.0v8.3M429.6 88.0l6.6 -4.2M429.6 88.0l-6.6 -4.2M429.6 86.5v8.3M429.6 86.5l6.6 -4.2M429.6 86.5l-6.6 -4.2M429.4 85.1v8.3M429.4 85.1l6.6 -4.2M429.4 85.1l-6.6 -4.2M429.0 83.6v8.3M429.0 83.6l6.6 -4.2M429.0 83.6l-6.6 -4.2M428.9 82.1v8.3M428.9 82.1l6.6 -4.2M428.9 82.1l-6.6 -4.2M429.0 80.7v8.3M429.0 80.7l6.6 -4.2M429.0 80.7l-6.6 -4.2M429.2 79.2v8.3M429.2 79.2l6.6 -4.2M429.2 79.2l-6.6 -4.2M428.8 77.7v8.3M428.8 77.7l6.6 -4.2M428.8 77.7l-6.6 -4.2M429.2 76.2v8.3M429.2 76.2l6.6 -4.2M429.2 76.2l-6.6 -4.2M515.4 108.5v8.3M515.4 108.5l6.6 -4.2M515.4 108.5l-6.6 -4.2M515.6 106.7v8.3M515.6 106.7l6.6 -4.2M515.6 106.7l-6.6 -4.2M515.6 104.9v8.3M515.6 104.9l6.6 -4.2M515.6 104.9l-6.6 -4.2M515.5 101.6v8.3M515.5 101.6l6.6 -4.2M515.5 101.6l-6.6 -4.2M515.4 100.0v8.3M515.4 100.0l6.6 -4.2M515.4 100.0l-6.6 -4.2M529.7 102.3v8.3M529.7 102.3l6.6 -4.2M529.7 102.3l-6.6 -4.2M529.1 101.0v8.3M529.1 101.0l6.6 -4.2M529.1 101.0l-6.6 -4.2M529.2 99.6v8.3M529.2 99.6l6.6 -4.2M529.2 99.6l-6.6 -4.2M528.9 98.2v8.3M528.9 98.2l6.6 -4.2M528.9 98.2l-6.6 -4.2M529.2 96.8v8.3M529.2 96.8l6.6 -4.2M529.2 96.8l-6.6 -4.2M529.3 95.4v8.3M529.3 95.4l6.6 -4.2M529.3 95.4l-6.6 -4.2M529.3 94.0v8.3M529.3 94.0l6.6 -4.2M529.3 94.0l-6.6 -4.2M529.1 92.7v8.3M529.1 92.7l6.6 -4.2M529.1 92.7l-6.6 -4.2M529.3 91.3v8.3M529.3 91.3l6.6 -4.2M529.3 91.3l-6.6 -4.2M528.9 89.9v8.3M528.9 89.9l6.6 -4.2M528.9 89.9l-6.6 -4.2M529.3 108.5v8.3M529.3 108.5l6.6 -4.2M529.3 108.5l-6.6 -4.2M529.2 106.2v8.3M529.2 106.2l6.6 -4.2M529.2 106.2l-6.6 -4.2M665.0 102.2v8.3M665.0 102.2l6.6 -4.2M665.0 102.2l-6.6 -4.2M664.7 100.7v8.3M664.7 100.7l6.6 -4.2M664.7 100.7l-6.6 -4.2M664.7 99.2v8.3M664.7 99.2l6.6 -4.2M664.7 99.2l-6.6 -4.2M664.9 97.7v8.3M664.9 97.7l6.6 -4.2M664.9 97.7l-6.6 -4.2M664.9 96.2v8.3M664.9 96.2l6.6 -4.2M664.9 96.2l-6.6 -4.2M665.2 94.7v8.3M665.2 94.7l6.6 -4.2M665.2 94.7l-6.6 -4.2M665.1 93.2v8.3M665.1 93.2l6.6 -4.2M665.1 93.2l-6.6 -4.2M665.3 91.7v8.3M665.3 91.7l6.6 -4.2M665.3 91.7l-6.6 -4.2M665.2 90.2v8.3M665.2 90.2l6.6 -4.2M665.2 90.2l-6.6 -4.2" stroke="#990000" stroke-width="2.8" fill="none" clip-path="url(#c)"/><path d="M75.68,234.15 L79.46,231.01 L83.24,227.94 L87.02,224.93 L90.81,221.99 L94.59,219.10 L98.37,216.27 L102.15,213.50 L105.94,210.79 L109.73,208.13 L113.51,205.52 L117.30,202.97 L121.08,200.47 L124.87,198.02 L128.66,195.62 L132.44,193.27 L136.23,190.95 L140.01,188.69 L143.79,186.46 L147.57,184.28 L151.35,182.13 L155.13,180.02 L158.90,177.95 L162.67,175.91 L166.44,173.90 L170.21,171.93 L173.98,169.98 L177.74,168.07 L181.51,166.18 L185.27,164.33 L189.03,162.50 L192.79,160.70 L196.54,158.94 L200.30,157.20 L204.06,155.48 L207.82,153.80 L211.57,152.15 L215.33,150.53 L219.09,148.93 L222.85,147.37 L226.61,145.84 L230.37,144.33 L234.13,142.86 L237.89,141.42 L241.65,140.00 L245.42,138.62 L249.19,137.26 L252.95,135.93 L256.72,134.63 L260.49,133.36 L264.26,132.12 L268.03,130.90 L271.80,129.70 L275.57,128.53 L279.35,127.39 L283.12,126.26 L286.89,125.16 L290.67,124.09 L294.44,123.03 L298.22,122.00 L301.99,120.98 L305.77,119.99 L309.54,119.02 L313.32,118.06 L317.10,117.13 L320.87,116.21 L324.65,115.31 L328.42,114.42 L332.20,113.56 L335.98,112.71 L339.76,111.88 L343.53,111.06 L347.31,110.26 L351.09,109.47 L354.87,108.70 L358.64,107.95 L362.42,107.20 L366.20,106.48 L369.98,105.76 L373.76,105.06 L377.54,104.38 L381.31,103.70 L385.09,103.04 L388.87,102.40 L392.65,101.76 L396.43,101.14 L400.21,100.52 L403.99,99.92 L407.77,99.34 L411.55,98.76 L415.33,98.19 L419.10,97.64 L422.88,97.09 L426.66,96.56 L430.44,96.04 L434.22,95.52 L438.00,95.02 L441.78,94.52 L445.56,94.04 L449.34,93.56 L453.13,93.10 L456.91,92.64 L460.69,92.19 L464.47,91.75 L468.25,91.32 L472.03,90.89 L475.81,90.48 L479.59,90.07 L483.37,89.67 L487.15,89.28 L490.93,88.89 L494.71,88.51 L498.50,88.14 L502.28,87.78 L506.06,87.42 L509.84,87.07 L513.62,86.73 L517.40,86.40 L521.18,86.07 L524.97,85.74 L528.75,85.43 L532.53,85.11 L536.31,84.81 L540.09,84.51 L543.88,84.22 L547.66,83.93 L551.44,83.65 L555.22,83.37 L559.00,83.10 L562.79,82.83 L566.57,82.57 L570.35,82.31 L574.13,82.06 L577.92,81.81 L581.70,81.57 L585.48,81.33 L589.26,81.10 L593.05,80.87 L596.83,80.65 L600.61,80.43 L604.39,80.21 L608.18,80.00 L611.96,79.79 L615.74,79.59 L619.52,79.39 L623.31,79.19 L627.09,79.00 L630.87,78.81 L634.66,78.63 L638.44,78.45 L642.22,78.27 L646.01,78.10 L649.79,77.92 L653.57,77.76 L657.36,77.59 L661.14,77.43 L664.92,77.27 L668.70,77.12 L672.49,76.97 L676.27,76.82 L680.05,76.67 L683.84,76.53 L687.62,76.38 L687.48,72.59 L683.70,72.73 L679.91,72.87 L676.12,73.02 L672.34,73.17 L668.55,73.32 L664.76,73.48 L660.98,73.63 L657.19,73.80 L653.41,73.96 L649.62,74.13 L645.83,74.30 L642.05,74.47 L638.26,74.65 L634.47,74.83 L630.69,75.02 L626.90,75.21 L623.11,75.40 L619.33,75.60 L615.54,75.80 L611.75,76.00 L607.97,76.21 L604.18,76.42 L600.39,76.63 L596.61,76.85 L592.82,77.08 L589.03,77.31 L585.24,77.54 L581.46,77.78 L577.67,78.02 L573.88,78.27 L570.10,78.52 L566.31,78.78 L562.52,79.04 L558.73,79.31 L554.95,79.58 L551.16,79.86 L547.37,80.14 L543.58,80.43 L539.80,80.72 L536.01,81.02 L532.22,81.33 L528.43,81.64 L524.65,81.96 L520.86,82.28 L517.07,82.61 L513.28,82.95 L509.49,83.29 L505.71,83.64 L501.92,84.00 L498.13,84.36 L494.34,84.73 L490.55,85.11 L486.76,85.50 L482.97,85.89 L479.19,86.29 L475.40,86.70 L471.61,87.12 L467.82,87.54 L464.03,87.97 L460.24,88.41 L456.45,88.86 L452.66,89.32 L448.87,89.79 L445.09,90.27 L441.30,90.75 L437.51,91.25 L433.72,91.76 L429.93,92.27 L426.14,92.80 L422.35,93.33 L418.56,93.88 L414.77,94.43 L410.98,95.00 L407.19,95.58 L403.40,96.17 L399.61,96.77 L395.82,97.39 L392.03,98.01 L388.23,98.65 L384.44,99.30 L380.65,99.96 L376.86,100.64 L373.07,101.33 L369.28,102.03 L365.49,102.74 L361.70,103.47 L357.91,104.22 L354.11,104.98 L350.32,105.75 L346.53,106.54 L342.74,107.34 L338.95,108.16 L335.15,109.00 L331.36,109.85 L327.57,110.72 L323.77,111.61 L319.98,112.51 L316.19,113.43 L312.40,114.37 L308.60,115.32 L304.81,116.30 L301.01,117.29 L297.22,118.31 L293.43,119.34 L289.63,120.39 L285.83,121.47 L282.04,122.56 L278.24,123.68 L274.45,124.81 L270.65,125.97 L266.85,127.15 L263.05,128.36 L259.25,129.58 L255.45,130.83 L251.65,132.11 L247.85,133.40 L244.04,134.73 L240.24,136.08 L236.43,137.45 L232.62,138.85 L228.82,140.28 L225.01,141.74 L221.20,143.22 L217.39,144.73 L213.57,146.28 L209.76,147.85 L205.95,149.46 L202.14,151.09 L198.33,152.76 L194.51,154.47 L190.70,156.21 L186.89,157.98 L183.08,159.79 L179.27,161.64 L175.47,163.52 L171.66,165.44 L167.86,167.40 L164.06,169.40 L160.26,171.44 L156.46,173.52 L152.67,175.65 L148.87,177.81 L145.08,180.02 L141.29,182.27 L137.50,184.57 L133.72,186.91 L129.93,189.29 L126.15,191.73 L122.36,194.21 L118.58,196.73 L114.80,199.31 L111.01,201.94 L107.23,204.61 L103.45,207.34 L99.66,210.12 L95.88,212.95 L92.09,215.84 L88.30,218.79 L84.52,221.79 L80.73,224.84 L76.94,227.96 L73.15,231.14Z" fill="#000" clip-path="url(#c)"/><path d="M78 279.7v9.5M214 279.7v9.5M293 279.7v9.5M350 279.7v9.5M394 279.7v9.5M429 279.7v9.5M459 279.7v9.5M486 279.7v9.5M509 279.7v9.5M529 279.7v9.5M665 279.7v9.5M78.2 224.0h-9.5M78.2 152.0h-9.5M78.2 79.0h-9.5M78.2 7.0h-9.5" stroke="#000" stroke-width="2.0" fill="none"/><rect x="78.2" y="5.0" width="605.6" height="274.7" fill="none" stroke="#000" stroke-width="2.3"/><g font-family="'Liberation Serif', serif" font-size="22.0px" fill="#000" stroke="#000" stroke-width="0.3"><text x="78.2" y="314.9" text-anchor="middle">10</text><text x="214.0" y="314.9" text-anchor="middle">20</text><text x="293.4" y="314.9" text-anchor="middle">30</text><text x="349.8" y="314.9" text-anchor="middle">40</text><text x="393.5" y="314.9" text-anchor="middle">50</text><text x="429.2" y="314.9" text-anchor="middle">60</text><text x="485.6" y="314.9" text-anchor="middle">80</text><text x="529.3" y="314.9" text-anchor="middle">100</text><text x="665.1" y="314.9" text-anchor="middle">200</text><text x="59.2" y="232.4" text-anchor="end">0.8</text><text x="59.2" y="160.4" text-anchor="end">1.0</text><text x="59.2" y="87.4" text-anchor="end">1.2</text><text x="59.2" y="15.4" text-anchor="end">1.4</text><text x="380.8" y="345.1" font-size="22.4px" text-anchor="middle" textLength="233.5" lengthAdjust="spacingAndGlyphs">Membrane thickness [nm]</text><text transform="translate(16.0 143.0) rotate(-90)" font-size="22.4px" text-anchor="middle" textLength="284.8" lengthAdjust="spacingAndGlyphs">Effective tensile prestress [GPa]</text></g></svg></body></html>
